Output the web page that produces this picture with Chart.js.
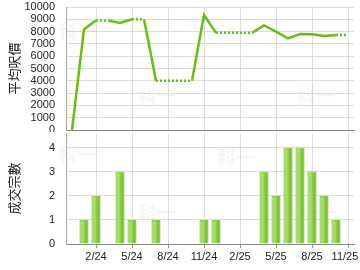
<!DOCTYPE html>
<html><head><meta charset="utf-8">
<script src="https://cdn.jsdelivr.net/npm/chart.js@4/dist/chart.umd.min.js"></script>
<style>
html,body{margin:0;padding:0;background:#fff;width:360px;height:270px;overflow:hidden}
#c1{position:absolute;left:0;top:0}
#c2{position:absolute;left:0;top:131px}
</style></head><body>
<canvas id="c1" width="360" height="132"></canvas>
<canvas id="c2" width="360" height="139"></canvas>
<script>
// ---- data ----
const months = ['2023-12','2024-01','2024-02','2024-03','2024-04','2024-05','2024-06','2024-07','2024-08','2024-09','2024-10','2024-11','2024-12',
                '2025-01','2025-02','2025-03','2025-04','2025-05','2025-06','2025-07','2025-08','2025-09','2025-10','2025-11'];
const avgPrice = [0,8200,8900,8900,8700,9000,9000,4000,4000,4000,4000,9350,7900,
                  7900,7900,7900,8500,8000,7450,7800,7780,7650,7720,7720];
const dealCount = [0,1,2,0,3,1,0,1,0,0,0,1,1,
                   0,0,0,3,2,4,4,3,2,1,0];
const tickMonths = ['2024-02','2024-05','2024-08','2024-11','2025-02','2025-05','2025-08','2025-11'];
const tickLabels = ['2/24','5/24','8/24','11/24','2/25','5/25','8/25','11/25'];
const priceTitle = '平均呎價';
const countTitle = '成交宗數';
const watermark = '科一';

// ---- styling helpers ----
const LATIN = '"Liberation Sans", Arial, sans-serif';
const CJK = '"Noto Sans CJK TC", "Noto Sans CJK SC", sans-serif';
const GRID = '#dcdcdc';
const isTick = i => tickMonths.includes(months[i]);
const vGrid = ctx => isTick(ctx.index) ? GRID : 'rgba(0,0,0,0)';
const vTick = ctx => isTick(ctx.index) ? '#999' : 'rgba(0,0,0,0)';
const noPad = s => { s.paddingTop = 0; s.paddingBottom = 0; s.paddingLeft = 0; s.paddingRight = 0; };

const wmPlugin = {
  id: 'wm',
  beforeDatasetsDraw(chart) {
    const a = chart.chartArea, c = chart.ctx;
    const spots = [[0.04,0.2],[0.315,0.72],[0.59,0.22],[0.868,0.72]];
    c.save();
    c.fillStyle = 'rgba(0,0,0,0.035)';
    c.font = 'bold 19px ' + CJK;
    c.textAlign = 'center'; c.textBaseline = 'middle';
    spots.forEach(([fx, fy]) => c.fillText(watermark, a.left + fx * (a.right - a.left), a.top + fy * (a.bottom - a.top)));
    c.restore();
  }
};

function barFill(ctx) {
  const chart = ctx.chart, xs = chart.scales && chart.scales.x;
  if (!xs || ctx.type !== 'data' || !chart.chartArea) return '#86c93a';
  const cx = xs.getPixelForValue(ctx.dataIndex);
  const g = chart.ctx.createLinearGradient(cx - 4.5, 0, cx + 4.5, 0);
  g.addColorStop(0, '#8fd24c');
  g.addColorStop(0.3, '#addf72');
  g.addColorStop(0.6, '#8acd42');
  g.addColorStop(1, '#5dab12');
  return g;
}

const yTitle = text => ({
  display: true, text, color: '#222',
  font: { family: CJK, size: 13 }, padding: { top: 6, bottom: 0 }
});
const tickFont = { family: LATIN, size: 11 };

Chart.defaults.font.family = LATIN;

new Chart(document.getElementById('c1'), {
  type: 'line',
  data: {
    labels: months,
    datasets: [{
      data: avgPrice,
      borderColor: '#66bf10',
      borderWidth: 2.5,
      pointRadius: 0,
      tension: 0,
      fill: false,
      borderCapStyle: 'butt',
      segment: { borderDash: ctx => dealCount[ctx.p1DataIndex] === 0 ? [2, 2] : undefined }
    }]
  },
  options: {
    responsive: false, animation: false, devicePixelRatio: 1,
    layout: { padding: { top: 7, right: 6, left: 0, bottom: 0 } },
    plugins: { legend: { display: false }, tooltip: { enabled: false } },
    scales: {
      x: {
        type: 'category', offset: true,
        grid: { offset: false, color: vGrid, drawTicks: false },
        border: { color: '#888' },
        ticks: { display: false, autoSkip: false },
        afterFit: s => { s.height = 2; noPad(s); }
      },
      y: {
        min: 0, max: 10000,
        ticks: { stepSize: 1000, autoSkip: false, padding: 11, color: '#222', font: tickFont, callback: v => String(v) },
        grid: { color: GRID, drawTicks: false },
        border: { color: '#aaa' },
        title: yTitle(priceTitle),
        afterFit: s => { s.width = 66; noPad(s); }
      }
    }
  },
  plugins: [wmPlugin]
});

new Chart(document.getElementById('c2'), {
  type: 'bar',
  data: {
    labels: months,
    datasets: [{
      data: dealCount,
      backgroundColor: barFill,
      borderColor: '#6cb824',
      borderWidth: 1,
      barPercentage: 0.75,
      categoryPercentage: 1
    }]
  },
  options: {
    responsive: false, animation: false, devicePixelRatio: 1,
    layout: { padding: { top: 2, right: 6, left: 0, bottom: 0 } },
    plugins: { legend: { display: false }, tooltip: { enabled: false } },
    scales: {
      x: {
        offset: true,
        grid: { offset: false, color: vGrid, tickColor: vTick, tickLength: 4 },
        border: { color: '#888' },
        ticks: {
          autoSkip: false, maxRotation: 0, padding: 2, color: '#222', font: tickFont,
          callback: (v, i) => {
            const k = tickMonths.indexOf(months[i]);
            if (k < 0) return '';
            return k === tickLabels.length - 1 ? tickLabels[k] + '\u00a0\u00a0' : tickLabels[k];
          }
        },
        afterFit: s => { s.height = 26; noPad(s); }
      },
      y: {
        min: 0, max: 4.6,
        ticks: { stepSize: 1, autoSkip: false, padding: 11, color: '#222', font: tickFont },
        afterBuildTicks: s => { s.ticks = s.ticks.filter(t => Number.isInteger(t.value)); },
        grid: { color: GRID, drawTicks: false },
        border: { color: '#aaa' },
        title: yTitle(countTitle),
        afterFit: s => { s.width = 66; noPad(s); }
      }
    }
  },
  plugins: [wmPlugin]
});
</script>
</body></html>
